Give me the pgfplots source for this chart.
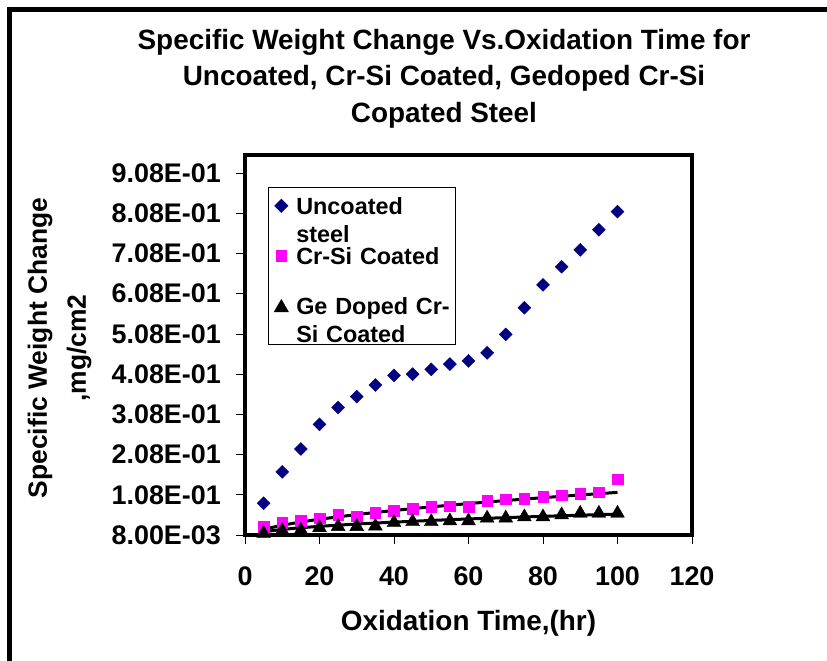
\documentclass[border=0pt]{standalone}
\usepackage{fontspec}
\setmainfont{Liberation Sans}
\usepackage{pgfplots}
\pgfplotsset{compat=1.18}

\definecolor{uncoated}{HTML}{000080}
\definecolor{crsi}{HTML}{FF00FF}

\pgfplotsset{
    legmark/.style={legend image code/.code={\draw[##1] plot coordinates {(0bp,#1)};}},
}

\begin{document}
\begin{tikzpicture}
% picture = 827 x 661 bp, axis box from (245,155) to (692,535) in image px
\useasboundingbox (-245bp,-126bp) rectangle (582bp,535bp);
\begin{axis}[
    scale only axis,
    width=447bp, height=380bp,
    xmin=0, xmax=120,
    ymin=0.008, ymax=0.953,
    clip=false,
    xtick={0,20,40,60,80,100,120},
    xticklabels={0,20,40,60,80,100,120},
    ytick={0.008,0.108,0.208,0.308,0.408,0.508,0.608,0.708,0.808,0.908},
    yticklabels={8.00E-03,1.08E-01,2.08E-01,3.08E-01,4.08E-01,5.08E-01,6.08E-01,7.08E-01,8.08E-01,9.08E-01},
    xtick pos=left, ytick pos=left,
    tick align=outside,
    major tick length=9bp,
    tick style={line width=0.8bp, black},
    axis line style={line width=3.3bp},
    ticklabel style={font=\fontsize{27}{30}\selectfont\bfseries, inner sep=0pt},
    xticklabel style={anchor=north, yshift=-23bp},
    yticklabel style={anchor=east, xshift=-15bp},
    title={Specific Weight Change Vs.Oxidation Time for\\Uncoated, Cr-Si Coated, Gedoped Cr-Si\\Copated Steel},
    title style={at={(axis description cs:0.4452,1.185)}, anchor=center, align=center,
        font=\fontsize{28}{37}\selectfont\bfseries, inner sep=0pt},
    xlabel={Oxidation Time,(hr)},
    xlabel style={at={(axis description cs:0.5,-0.232)}, anchor=center,
        font=\fontsize{28}{32}\selectfont\bfseries, inner sep=0pt},
    ylabel={Specific Weight Change\\,mg/cm2},
    ylabel style={at={(axis description cs:-0.4147,0.4921)}, anchor=center, rotate=0,
        align=center, font=\fontsize{26.5}{39}\selectfont\bfseries, inner sep=0pt},
    legend cell align=left,
    legend style={at={(axis description cs:0.0515,0.9158)}, anchor=north west,
        draw=black, line width=0.8bp, fill=white,
        inner xsep=6bp, inner ysep=9.4bp, column sep=8bp, row sep=12bp,
        font=\fontsize{23.5}{28}\selectfont\bfseries,
        cells={anchor=base west},
        nodes={text width=153bp, align=left, text height=18bp, text depth=20bp, inner sep=0pt}},
]
\addplot[only marks, mark=square*, mark size=4.6bp, color=uncoated,
    mark options={rotate=45, draw=uncoated, fill=uncoated}, legmark=9bp]
coordinates {
    (5,0.087) (10,0.165) (15,0.222) (20,0.283) (25,0.325)
    (30,0.352) (35,0.381) (40,0.405) (45,0.408) (50,0.420)
    (55,0.433) (60,0.441) (65,0.461) (70,0.507) (75,0.573)
    (80,0.630) (85,0.675) (90,0.717) (95,0.767) (100,0.812)
};
\addlegendentry{Uncoated\\steel}
\addplot[only marks, mark=square*, mark size=5.3bp, color=crsi,
    mark options={draw=crsi, fill=crsi}, legmark=9bp]
coordinates {
    (5,0.029) (10,0.039) (15,0.043) (20,0.050) (25,0.058)
    (30,0.055) (35,0.064) (40,0.068) (45,0.074) (50,0.078)
    (55,0.080) (60,0.078) (65,0.093) (70,0.097) (75,0.099)
    (80,0.103) (85,0.107) (90,0.110) (95,0.114) (100,0.147)
};
\addlegendentry{Cr-Si Coated}
\addplot[only marks, mark=triangle*, mark size=8bp, color=black,
    mark options={draw=black, fill=black}, legmark=7bp]
coordinates {
    (5,0.012) (10,0.019) (15,0.020) (20,0.026) (25,0.029)
    (30,0.029) (35,0.030) (40,0.039) (45,0.041) (50,0.041)
    (55,0.043) (60,0.043) (65,0.050) (70,0.050) (75,0.053)
    (80,0.053) (85,0.058) (90,0.062) (95,0.062) (100,0.062)
};
\addlegendentry{\mbox{Ge Doped Cr-}\\Si Coated}
% trend lines
\addplot[black, line width=3bp, smooth, forget plot] coordinates {
    (5,0.022) (10,0.0322) (15,0.0402) (20,0.0471) (30,0.0588) (40,0.0689)
    (50,0.0779) (60,0.0861) (70,0.0937) (80,0.1008) (90,0.1075) (100,0.114)
};
\addplot[black, line width=3bp, smooth, forget plot] coordinates {
    (5,0.016) (10,0.0217) (15,0.026) (20,0.0295) (30,0.0353) (40,0.040)
    (50,0.0442) (60,0.0479) (70,0.0512) (80,0.0544) (90,0.0572) (100,0.060)
};
\end{axis}
% chart area border (left and top only)
\draw[line width=5bp] (-235bp,-126bp) -- (-235bp,525bp) -- (582bp,525bp);
\end{tikzpicture}
\end{document}
